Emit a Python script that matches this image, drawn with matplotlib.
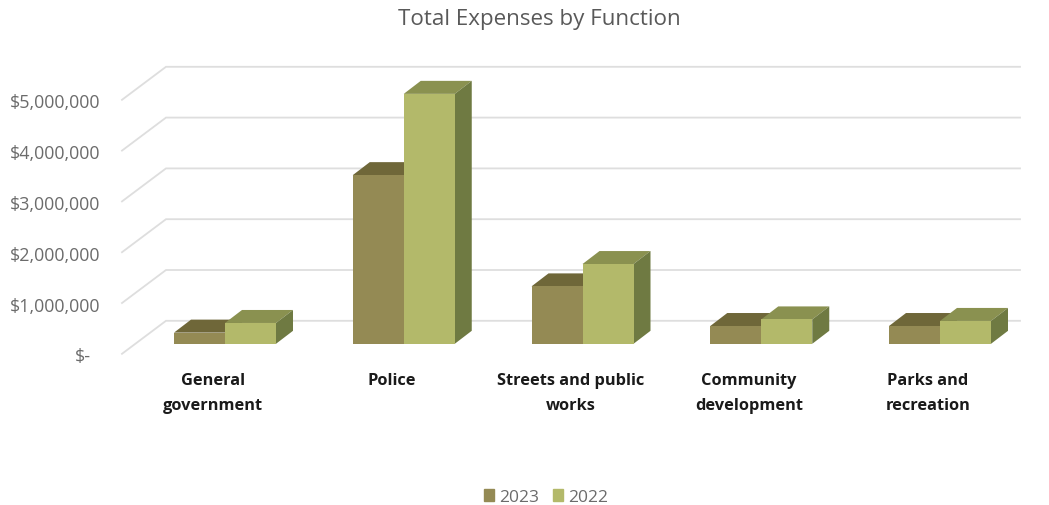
import matplotlib
matplotlib.use("Agg")
import matplotlib.pyplot as plt
from matplotlib.patches import Polygon

plt.rcParams["font.family"] = "Open Sans"

# Expense data by function, in dollars
categories = ["General\ngovernment", "Police", "Streets and public\nworks",
              "Community\ndevelopment", "Parks and\nrecreation"]
expenses_2023 = [220000, 3320000, 1130000, 350000, 350000]
expenses_2022 = [410000, 4920000, 1570000, 480000, 450000]
tick_values = [0, 1000000, 2000000, 3000000, 4000000, 5000000]
tick_labels = ["$-", "$1,000,000", "$2,000,000", "$3,000,000", "$4,000,000", "$5,000,000"]

WIDTH, HEIGHT = 1049, 506
CAT_PX = 178.75           # category spacing
VAL_PX = 50.8 / 1e6       # pixels per dollar
X0_PX, Y0_PX = 225, 344.8  # where category 0 and $0 sit on the bar front plane

BAR_W = 51 / CAT_PX
DEPTH_X = 17 / CAT_PX
DEPTH_Y = 13 / VAL_PX
WALL_X = 166              # pixel x of the back wall
GRID_END_X = 1020

GRID_COLOR = "#dedede"
TEXT_GRAY = "#6b6b6b"
COL_2023 = dict(front="#948a54", top="#6f6739", side="#5f5a30")
COL_2022 = dict(front="#b3b96a", top="#8a9150", side="#6f7a42")

fig = plt.figure(figsize=(WIDTH / 100, HEIGHT / 100), dpi=100)
ax = fig.add_axes([0, 0, 1, 1])
ax.set_xlim(-X0_PX / CAT_PX, (WIDTH - X0_PX) / CAT_PX)
ax.set_ylim((Y0_PX - HEIGHT) / VAL_PX, Y0_PX / VAL_PX)
ax.axis("off")


def px_x(px):
    return (px - X0_PX) / CAT_PX


def px_dy(px):
    return px / VAL_PX


# Back wall gridlines with the oblique run down to the axis labels
for v, label in zip(tick_values, tick_labels):
    back_y = v + px_dy(23)
    front_y = v - px_dy(10)
    ax.plot([px_x(122), px_x(WALL_X), px_x(GRID_END_X)], [front_y, back_y, back_y],
            color=GRID_COLOR, lw=1.3, zorder=1, solid_joinstyle="miter")
    right_px = 100 if v else 91
    ax.text(px_x(right_px), v - px_dy(12.5), label, ha="right", va="center",
            fontsize=12.9, color=TEXT_GRAY)


def draw_box(x_left, value, colors, z):
    """Draw one oblique 3D bar: front face plus top and side faces."""
    x_right = x_left + BAR_W
    ax.bar(x_left, value, width=BAR_W, align="edge", color=colors["front"], zorder=z + 0.2)
    top = [(x_left, value), (x_right, value),
           (x_right + DEPTH_X, value + DEPTH_Y), (x_left + DEPTH_X, value + DEPTH_Y)]
    side = [(x_right, 0), (x_right + DEPTH_X, DEPTH_Y),
            (x_right + DEPTH_X, value + DEPTH_Y), (x_right, value)]
    ax.add_patch(Polygon(top, closed=True, facecolor=colors["top"], edgecolor="none", zorder=z))
    ax.add_patch(Polygon(side, closed=True, facecolor=colors["side"], edgecolor="none", zorder=z))


for i, (v23, v22) in enumerate(zip(expenses_2023, expenses_2022)):
    draw_box(i - BAR_W, v23, COL_2023, 2)
    draw_box(i, v22, COL_2022, 3)

# Category labels hang from a common top line, slightly left of each group
for i, name in enumerate(categories):
    ax.text(i - 12 / CAT_PX, -px_dy(28), name, ha="center", va="top", fontsize=11.8,
            fontweight="bold", color="#1a1a1a", linespacing=1.76)

fig.text(539 / WIDTH, 1 - 20 / HEIGHT, "Total Expenses by Function", ha="center", va="center",
         fontsize=16.1, color="#595959")

handles = [plt.Rectangle((0, 0), 1, 1, color=COL_2023["front"]),
           plt.Rectangle((0, 0), 1, 1, color=COL_2022["front"])]
fig.legend(handles, ["2023", "2022"], loc="center", bbox_to_anchor=(546 / WIDTH, 1 - 498 / HEIGHT),
           ncol=2, frameon=False, fontsize=12.5, handlelength=0.62, handleheight=0.62,
           handletextpad=0.3, columnspacing=0.75, labelcolor=TEXT_GRAY)

fig.savefig("out.png", dpi=100)
